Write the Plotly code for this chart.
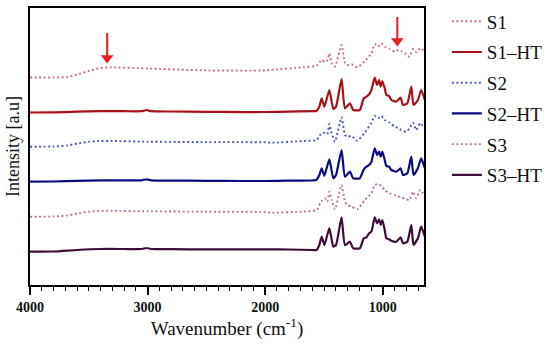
import plotly.graph_objects as go

# ---------------- data ----------------
# Wavenumber grid shared by the heat-treated (solid) spectra, cm-1
wn_ht = [4000, 3800, 3600, 3400, 3200, 3050, 3010, 2970, 2800, 2500, 2200, 2000, 1800, 1600, 1565,
         1540, 1520, 1497, 1455, 1421, 1398, 1351, 1322, 1280, 1252, 1196, 1162, 1139, 1117, 1097,
         1069, 1049, 1032, 1018, 1004, 984, 970, 947, 928, 885, 849, 829, 792, 758, 739, 702, 674, 643]

s1_ht = [172.5, 172.6, 173.3, 173.8, 173.8, 173.8, 175.0, 173.8, 173.5, 173.2, 172.9, 173.0, 173.3, 173.8, 174.0,
         178.3, 186.7, 178.3, 195.0, 176.0, 178.3, 206.0, 176.7, 181.7, 175.0, 175.0, 186.7, 188.3, 190.7, 195.0,
         207.3, 200.0, 205.0, 198.3, 204.0, 196.7, 190.0, 189.0, 185.0, 183.3, 187.3, 180.0, 181.7, 198.3, 180.0, 185.0, 195.0, 185.0]

s2_ht = [103.3, 103.5, 104.2, 104.7, 104.7, 104.7, 105.7, 104.7, 104.4, 104.2, 104.0, 104.0, 104.3, 104.7, 105.0,
         110.0, 116.7, 109.3, 125.7, 106.7, 110.0, 135.0, 108.3, 113.3, 106.7, 106.7, 115.7, 118.3, 120.0, 123.3,
         136.7, 130.0, 133.3, 128.3, 133.3, 125.0, 119.0, 118.3, 115.0, 113.3, 116.7, 110.0, 111.7, 128.3, 110.0, 116.7, 126.7, 116.7]

s3_ht = [33.3, 33.5, 35.0, 36.0, 36.0, 36.0, 37.0, 36.0, 35.8, 35.6, 35.6, 35.7, 35.5, 35.0, 35.0,
         40.0, 48.3, 40.0, 56.7, 38.3, 40.0, 67.7, 40.0, 43.3, 36.7, 36.7, 46.7, 47.7, 51.7, 53.3,
         67.7, 61.7, 65.7, 60.0, 65.0, 55.0, 46.7, 45.7, 44.3, 43.3, 47.7, 41.7, 43.3, 60.0, 40.0, 46.7, 58.3, 48.3]

# Wavenumber grid shared by the untreated (dotted) spectra, cm-1
wn_raw = [4000, 3800, 3680, 3600, 3500, 3420, 3310, 3000, 2550, 2000, 1957, 1675, 1562,
          1534, 1520, 1492, 1472, 1455, 1435, 1407, 1351, 1322, 1303, 1266, 1218, 1153,
          1097, 1069, 1040, 1012, 984, 942, 899, 871, 843, 801, 773, 744, 716, 682, 643]

s1 = [207.5, 207.5, 208.0, 210.5, 214.0, 216.7, 217.7, 216.5, 214.7, 214.5, 215.0, 217.7, 219.3,
      223.3, 225.0, 223.0, 224.5, 231.7, 222.0, 218.3, 240.0, 222.0, 220.0, 220.7, 217.7, 224.0,
      231.7, 240.7, 238.3, 241.7, 238.3, 236.0, 233.3, 235.0, 234.0, 230.7, 228.3, 236.0, 232.7, 236.7, 233.3]

s2 = [138.3, 138.5, 139.5, 141.5, 143.2, 144.0, 144.0, 143.3, 142.9, 142.7, 142.3, 144.0, 145.0,
      150.0, 151.5, 152.3, 151.0, 161.0, 151.7, 143.3, 167.7, 150.0, 148.3, 149.0, 144.3, 152.3,
      162.3, 169.0, 166.7, 169.0, 165.0, 162.3, 158.3, 157.0, 155.0, 153.3, 156.7, 162.3, 155.0, 161.7, 156.7]

s3 = [68.3, 68.5, 69.5, 71.5, 73.3, 74.0, 74.2, 73.7, 73.3, 73.0, 72.3, 73.5, 75.0,
      81.7, 84.0, 86.7, 83.3, 93.3, 85.0, 75.7, 100.0, 83.3, 80.0, 78.3, 75.7, 85.0,
      91.7, 100.0, 101.0, 99.0, 95.0, 91.7, 90.0, 89.0, 87.7, 85.7, 85.0, 93.3, 86.7, 95.0, 89.0]

names = ["S1", "S1\u2013HT", "S2", "S2\u2013HT", "S3", "S3\u2013HT"]
colors = ["#c8707e", "#a8101a", "#4a5aae", "#0c0c82", "#b874a2", "#3e0c38"]

# arrows marking bands: wavenumber, intensity at the tip, intensity at the tail
arrow_wn = [3344, 877]
arrow_tip = [223, 240]
arrow_tail = [252, 268]

x_ticks = [4000, 3000, 2000, 1000]

# ---------------- figure ----------------
series = [(wn_raw, s1), (wn_ht, s1_ht), (wn_raw, s2), (wn_ht, s2_ht), (wn_raw, s3), (wn_ht, s3_ht)]

fig = go.Figure()
for i, ((xs, ys), nm, col) in enumerate(zip(series, names, colors)):
    dotted = i % 2 == 0
    fig.add_trace(go.Scatter(
        x=xs, y=ys, name=nm, mode="lines", legendgroup=nm,
        line=dict(color=col, width=1.9 if dotted else 2.2, dash="2px,2.5px" if dotted else "solid",
                  shape="spline", smoothing=0.5),
    ))

# red arrows (shaft + head)
for xw, yt, yb in zip(arrow_wn, arrow_tip, arrow_tail):
    fig.add_trace(go.Scatter(x=[xw, xw], y=[yb, yt + 6], mode="lines", showlegend=False,
                             hoverinfo="skip", line=dict(color="#ea1c24", width=2)))
    fig.add_trace(go.Scatter(x=[xw], y=[yt + 4], mode="markers", showlegend=False,
                             hoverinfo="skip",
                             marker=dict(symbol="triangle-down", size=11, color="#ea1c24",
                                         line=dict(width=0))))

serif = "Liberation Serif, Times New Roman, serif"
fig.update_layout(
    width=550, height=346,
    margin=dict(l=30, r=126, t=8, b=61, autoexpand=False),
    paper_bgcolor="white", plot_bgcolor="white",
    font=dict(family=serif, color="#111111"),
    showlegend=True,
    legend=dict(x=1.058, y=1.02, xanchor="left", yanchor="top",
                font=dict(family=serif, size=19, color="#111111"),
                tracegroupgap=3, traceorder="grouped", maxheight=330,
                bgcolor="rgba(0,0,0,0)", itemwidth=30),
    xaxis=dict(range=[4000, 650], autorange=False, automargin=False,
               tickvals=x_ticks, ticks="outside", ticklen=8, tickwidth=1.5, tickcolor="black",
               minor=dict(dtick=100, ticks="outside", ticklen=4, tickwidth=1.2, tickcolor="black"),
               showline=True, linecolor="black", linewidth=2, mirror=True,
               showgrid=False, zeroline=False,
               tickfont=dict(family=serif, size=14, color="#111111", weight="bold"),
               title=dict(text="Wavenumber (cm<sup>-1</sup>)", font=dict(family=serif, size=19, color="#111111"),
                          standoff=6)),
    yaxis=dict(range=[0, 277], autorange=False, automargin=False,
               showticklabels=False, ticks="",
               showline=True, linecolor="black", linewidth=2, mirror=True,
               showgrid=False, zeroline=False,
               title=dict(text="Intensity [a.u]", font=dict(family=serif, size=18, color="#111111"),
                          standoff=4)),
)

fig.write_html("out.html", config={"displayModeBar": False},
               post_script="document.body.style.margin='0';document.body.style.overflow='hidden';")
